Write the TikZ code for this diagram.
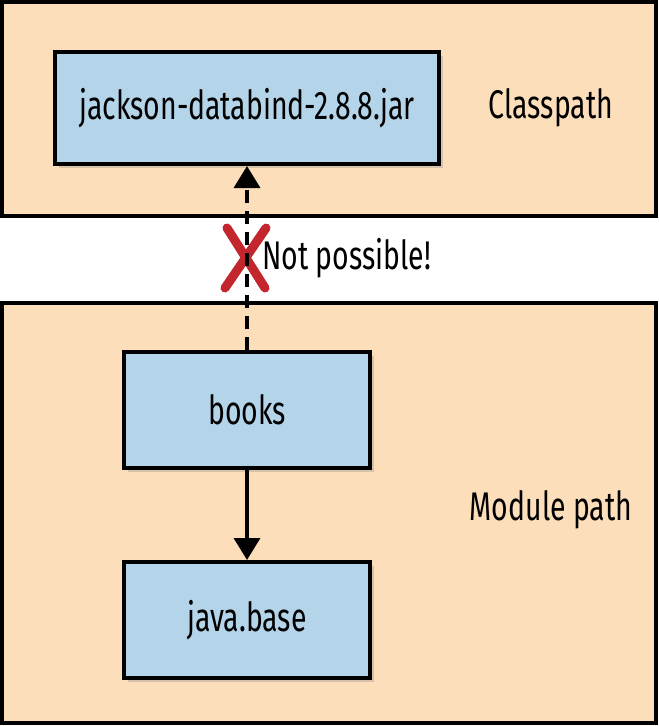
\documentclass[tikz,border=0pt]{standalone}
\usepackage{fontspec}
\setmainfont{Fira Sans}[FakeStretch=0.71]
\usetikzlibrary{arrows.meta,shadows}
\definecolor{peach}{RGB}{252,222,187}
\definecolor{boxblue}{RGB}{180,212,234}
\definecolor{crossred}{RGB}{196,38,46}
\begin{document}
\begin{tikzpicture}[x=1pt,y=-1pt,
    every node/.style={font=\fontsize{40}{44}\selectfont},
    area/.style={draw, line width=4pt, fill=peach},
    jarbox/.style={draw, line width=4pt, fill=boxblue, inner sep=0pt,
        drop shadow={opacity=0.3, shadow xshift=4pt, shadow yshift=-4pt}},
    dep/.style={line width=3.5pt, -{Triangle[width=26pt,length=22pt]}}]
    \useasboundingbox (0,0) rectangle (659,726);
    % the two paths
    \draw[area] (2,2) rectangle (656,216);
    \draw[area] (2,303) rectangle (656,723);
    \node[jarbox, minimum width=384pt, minimum height=112pt] (jar) at (247,108) {jackson-databind-2.8.8.jar};
    \node[jarbox, minimum width=246pt, minimum height=116pt] (books) at (247,410) {books};
    \node[jarbox, minimum width=246pt, minimum height=116pt] (base) at (247,620) {java.base};
    \node (classpath) at (551,108) {Classpath};
    \node (modulepath) at (551,510) {Module path};
    % the forbidden read
    \draw[crossred, line width=9pt, line cap=round] (227,228) -- (265,288);
    \draw[crossred, line width=9pt, line cap=round] (266,228) -- (225,288);
    \node[anchor=west, inner sep=0pt] (notpossible) at (262,258) {Not possible!};
    \draw[dep, dash pattern=on 13pt off 8pt] (books) -- (jar);
    \draw[dep] (books) -- (base);
\end{tikzpicture}
\end{document}
